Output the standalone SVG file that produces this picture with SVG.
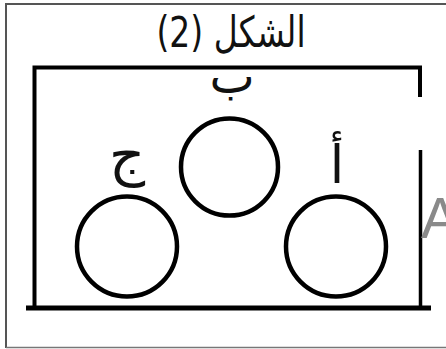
<svg xmlns="http://www.w3.org/2000/svg" width="446" height="349" viewBox="0 0 446 349">
<style>
.frame{fill:none;stroke:#555;stroke-width:2}
.wall{fill:none;stroke:#000;stroke-width:4;stroke-linecap:square}
.ball{fill:none;stroke:#000;stroke-width:4.5}
.lbl{font-family:"DejaVu Sans","Liberation Sans",sans-serif;fill:#111;text-anchor:middle}
</style>
<rect x="0" y="0" width="446" height="349" fill="#fff"/>
<g id="frame">
<path class="frame" d="M6,348 V4 H446"/>
<line x1="6" y1="347.5" x2="446" y2="347.5" stroke="#777" stroke-width="1.5"/>
</g>
<g id="title">
<text transform="translate(231,47) scale(1,1.3)" class="lbl" font-size="33">الشكل (2)</text>
</g>
<g id="container">
<path class="wall" d="M34.5,306 V67.5 H420 V95"/>
<line x1="420.5" y1="150" x2="420.5" y2="306" stroke="#000" stroke-width="3.5"/>
<line x1="26" y1="308" x2="431" y2="308" stroke="#000" stroke-width="5"/>
</g>
<g id="ball-b">
<circle class="ball" cx="229.5" cy="167" r="48.5"/>
<text x="232" y="93" class="lbl" font-size="48">ب</text>
</g>
<g id="ball-j">
<circle class="ball" cx="127" cy="246.5" r="50"/>
<text x="127" y="174" class="lbl" font-size="56">ج</text>
</g>
<g id="ball-a">
<circle class="ball" cx="336" cy="246.5" r="50"/>
<text x="337" y="183" class="lbl" font-size="52">أ</text>
</g>
<g id="side-label">
<text x="421" y="238" font-family="Liberation Sans, sans-serif" font-size="57" fill="#8a8a8a">A</text>
</g>
</svg>
